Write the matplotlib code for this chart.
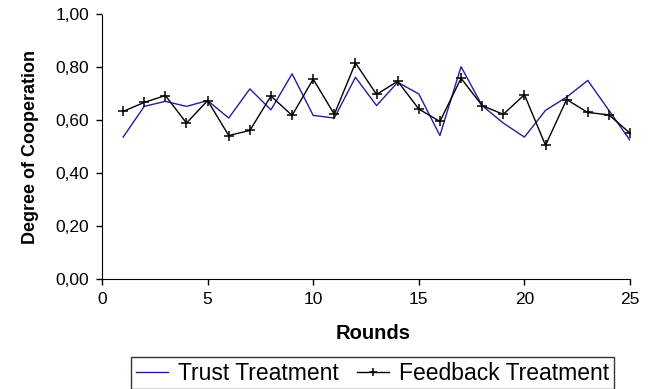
import matplotlib
matplotlib.use("Agg")
import matplotlib.pyplot as plt
from matplotlib.ticker import FuncFormatter, MultipleLocator

plt.rcParams['font.family'] = ['Liberation Sans', 'DejaVu Sans']

rounds = list(range(1, 26))
trust = [0.537, 0.653, 0.672, 0.653, 0.675, 0.609, 0.719, 0.640, 0.776, 0.619,
         0.609, 0.763, 0.656, 0.744, 0.700, 0.543, 0.803, 0.656, 0.590, 0.537,
         0.638, 0.688, 0.751, 0.638, 0.525]
feedback = [0.634, 0.668, 0.694, 0.590, 0.675, 0.543, 0.562, 0.692, 0.619, 0.756,
            0.623, 0.817, 0.698, 0.748, 0.643, 0.596, 0.759, 0.656, 0.623, 0.697,
            0.506, 0.679, 0.630, 0.621, 0.552]

W, H = 655, 389
fig = plt.figure(figsize=(W / 100, H / 100), dpi=100)
ax = fig.add_axes([102 / W, 1 - 279.3 / H, 528 / W, 264.8 / H])

ax.plot(rounds, trust, color='#20209a', lw=1.0, label='Trust Treatment')
ax.plot(rounds, feedback, color='black', lw=1.0, marker='+', ms=7, mew=1.1,
        label='Feedback Treatment')

ax.set_xlim(0, 25)
ax.set_ylim(0, 1.0)
ax.xaxis.set_major_locator(MultipleLocator(5))
ax.yaxis.set_major_locator(MultipleLocator(0.2))
ax.yaxis.set_major_formatter(FuncFormatter(lambda v, p: f"{v:.2f}".replace('.', ',')))
ax.spines['top'].set_visible(False)
ax.spines['right'].set_visible(False)
ax.tick_params(labelsize=12.5, length=4, width=1)
ax.tick_params(axis='x', pad=5)
ax.tick_params(axis='y', pad=5)

ax.set_xlabel('Rounds', fontsize=14.5, fontweight='bold')
ax.xaxis.set_label_coords(0.513, -0.17)
ax.set_ylabel('Degree of Cooperation', fontsize=13, fontweight='bold', labelpad=12)

leg = fig.legend(loc='upper center', bbox_to_anchor=(372.5 / W, 1 - 357 / H), ncol=2,
                 fontsize=16.5, frameon=True, fancybox=False, edgecolor='black',
                 handlelength=1.4, handletextpad=0.45, columnspacing=0.8,
                 borderpad=0.2, borderaxespad=0, markerscale=0.8)
leg.get_frame().set_linewidth(1.0)

fig.savefig('out.png', dpi=100)
